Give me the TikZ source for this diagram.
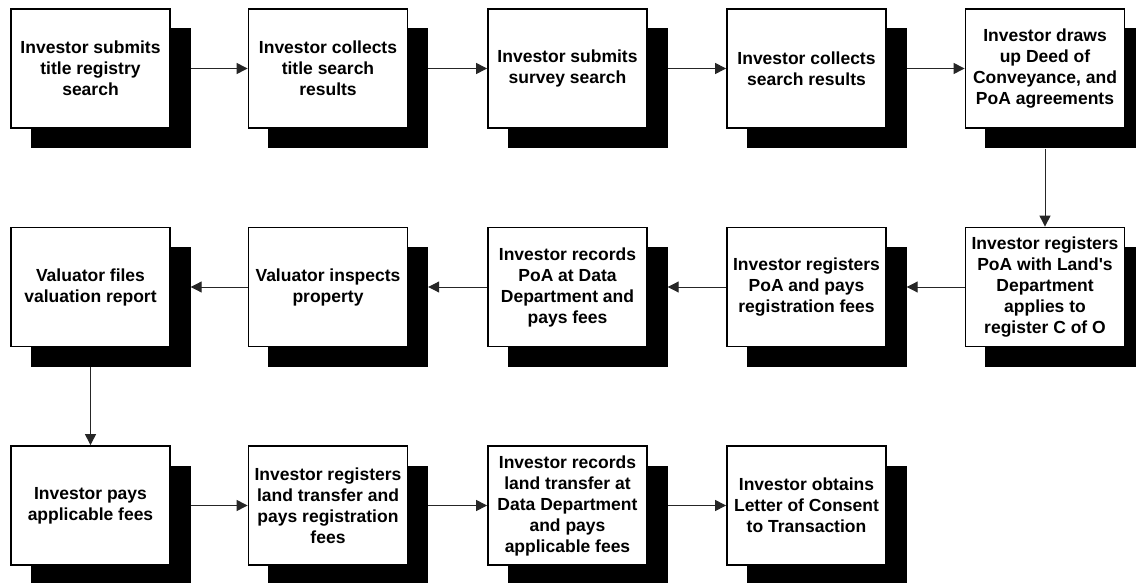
\documentclass[tikz,border=0pt]{standalone}
\usepackage{fontspec}
% no TeX ligature mapping, so ' stays a straight apostrophe
\newfontfamily\boxfont{Liberation Sans}
\usetikzlibrary{arrows.meta}
\begin{document}
\begin{tikzpicture}[x=1pt,y=-1pt,
  stepbox/.style={draw=black, line width=1.8pt, fill=white,
    minimum width=159pt, minimum height=119pt, inner sep=0pt,
    align=center, font=\boxfont\fontsize{17.5}{21}\selectfont\bfseries},
  shadowbox/.style={fill=black, draw=none,
    minimum width=160pt, minimum height=120pt, inner sep=0pt},
  flow/.style={draw=black!85, line width=1pt, -{Triangle[length=11pt,width=11pt]}}
]
\useasboundingbox (0,0) rectangle (1136,583);
\clip (0,0) rectangle (1136,583);
\fill[white] (0,0) rectangle (1136,583);

% step with its offset drop shadow: #1 name, #2 x, #3 y, #4 text
\def\stepat#1#2#3#4{%
  \node[shadowbox] (#1s) at (#2+20,#3+20) {};
  \node[stepbox] (#1) at (#2,#3) {#4};
}

% first row (left to right)
\stepat{a1}{90.5}{68.5}{Investor submits\\title registry\\search}
\stepat{a2}{328}{68.5}{Investor collects\\title search\\results}
\stepat{a3}{567.5}{68.5}{Investor submits\\survey search}
\stepat{a4}{806.5}{68.5}{Investor collects\\search results}
\stepat{a5}{1045}{68.5}{Investor draws\\up Deed of\\Conveyance, and\\PoA agreements}

% second row (right to left)
\stepat{b1}{1045}{287}{Investor registers\\PoA with Land's\\Department\\applies to\\register C of O}
\stepat{b2}{806.5}{287}{Investor registers\\PoA and pays\\registration fees}
\stepat{b3}{567.5}{287}{Investor records\\PoA at Data\\Department and\\pays fees}
\stepat{b4}{328}{287}{Valuator inspects\\property}
\stepat{b5}{90.5}{287}{Valuator files\\valuation report}

% third row (left to right)
\stepat{c1}{90.5}{505.5}{Investor pays\\applicable fees}
\stepat{c2}{328}{505.5}{Investor registers\\land transfer and\\pays registration\\fees}
\stepat{c3}{567.5}{505.5}{Investor records\\land transfer at\\Data Department\\and pays\\applicable fees}
\stepat{c4}{806.5}{505.5}{Investor obtains\\Letter of Consent\\to Transaction}

% connectors
\draw[flow] (a1s.east |- a1.east) -- (a2.west);
\draw[flow] (a2s.east |- a2.east) -- (a3.west);
\draw[flow] (a3s.east |- a3.east) -- (a4.west);
\draw[flow] (a4s.east |- a4.east) -- (a5.west);
\draw[flow] (a5s.south -| a5.south) -- (b1.north);
\draw[flow] (b1.west) -- (b2s.east |- b2.east);
\draw[flow] (b2.west) -- (b3s.east |- b3.east);
\draw[flow] (b3.west) -- (b4s.east |- b4.east);
\draw[flow] (b4.west) -- (b5s.east |- b5.east);
\draw[flow] (b5s.south -| b5.south) -- (c1.north);
\draw[flow] (c1s.east |- c1.east) -- (c2.west);
\draw[flow] (c2s.east |- c2.east) -- (c3.west);
\draw[flow] (c3s.east |- c3.east) -- (c4.west);
\end{tikzpicture}
\end{document}
